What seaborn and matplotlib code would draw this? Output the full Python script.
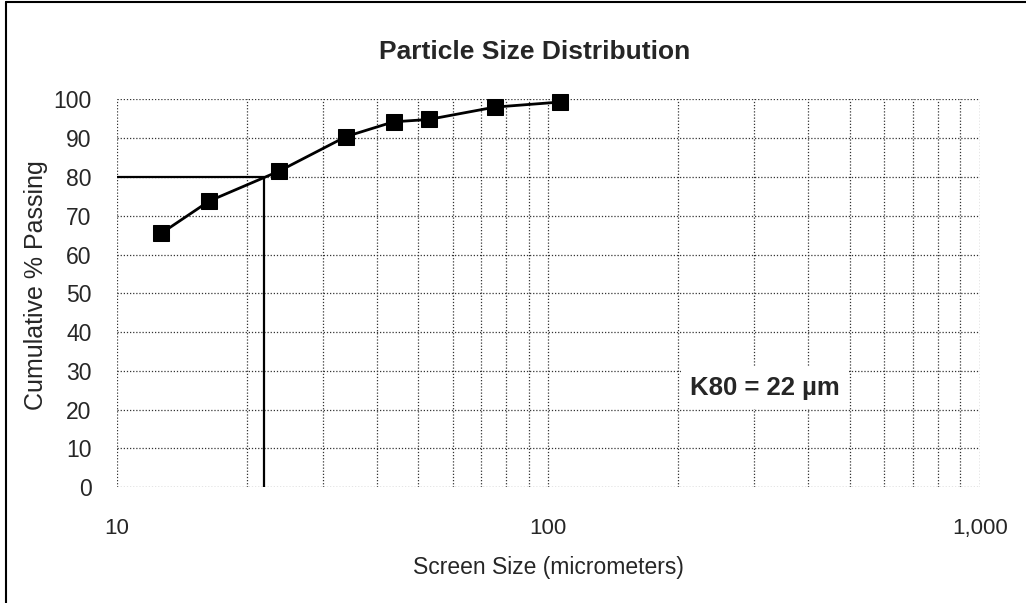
import pandas as pd
import matplotlib
matplotlib.use("Agg")
import matplotlib.pyplot as plt
import matplotlib.ticker as mticker
from matplotlib.lines import Line2D
import seaborn as sns

# Dados
tamanho_peneira = [12.7, 16.4, 23.8, 34.0, 43.8, 52.8, 75.3, 106.6]
passante_acum = [65.5, 73.8, 81.5, 90.4, 94.2, 94.8, 98.0, 99.3]
k80 = 22
nivel_k80 = 80
x_ticks = [10, 100, 1000]
y_ticks = [0, 10, 20, 30, 40, 50, 60, 70, 80, 90, 100]

df = pd.DataFrame({"size": tamanho_peneira, "passing": passante_acum})

sns.set_style("white")
plt.rcParams["font.family"] = ["Liberation Sans", "DejaVu Sans"]

fig = plt.figure(figsize=(10.26, 6.03), dpi=100)
ax = fig.add_axes([0.1137, 0.1919, 0.8414, 0.6434])

# Eixos e grade pontilhada
ax.set_xscale("log")
ax.set_xlim(10, 1000)
ax.set_ylim(0, 100)
ax.set_xticks(x_ticks)
ax.set_yticks(y_ticks)
ax.xaxis.set_major_formatter(mticker.FuncFormatter(lambda v, p: f"{v:,.0f}"))
ax.xaxis.set_minor_locator(mticker.LogLocator(base=10, subs=range(2, 10)))
ax.xaxis.set_minor_formatter(mticker.NullFormatter())
ax.grid(True, which="both", axis="x", color="#333333", linestyle=(0, (1, 1.5)), linewidth=0.9)
ax.grid(True, which="major", axis="y", color="#333333", linestyle=(0, (1, 1.5)), linewidth=0.9)
ax.tick_params(which="both", length=0)
ax.tick_params(axis="x", pad=22, labelsize=16)
ax.tick_params(axis="y", pad=18, labelsize=16.5)
for s in ax.spines.values():
    s.set_visible(False)

# Linhas do K80
ax.plot([10, k80], [nivel_k80, nivel_k80], color="black", linewidth=1.6, zorder=3)
ax.plot([k80, k80], [0, nivel_k80], color="black", linewidth=1.6, zorder=3)

# Curva de distribuição
sns.lineplot(data=df, x="size", y="passing", ax=ax, color="black", linewidth=2,
             marker="s", markersize=11.5, markeredgecolor="black", markerfacecolor="black",
             zorder=4, clip_on=False)

ax.text(318, 25.5, f"K80 = {k80} µm", fontsize=18.5, fontweight="bold", ha="center", va="center",
        bbox=dict(boxstyle="square,pad=0.35", facecolor="white", edgecolor="none"), zorder=5)

ax.set_xlabel("Screen Size (micrometers)", fontsize=16.5, labelpad=12)
ax.set_ylabel("Cumulative % Passing", fontsize=18)
ax.yaxis.set_label_coords(-0.080, 0.52)

# Título
fig.text(0.521, 0.914, "Particle Size Distribution", fontsize=19, fontweight="bold",
         ha="center", va="center")

# Moldura (apenas topo e esquerda, como no original)
fig.add_artist(Line2D([0.006, 1.0], [0.996, 0.996], transform=fig.transFigure,
                      color="black", linewidth=1.5))
fig.add_artist(Line2D([0.006, 0.006], [0.0, 0.996], transform=fig.transFigure,
                      color="black", linewidth=1.5))

fig.savefig("out.png", dpi=100)
